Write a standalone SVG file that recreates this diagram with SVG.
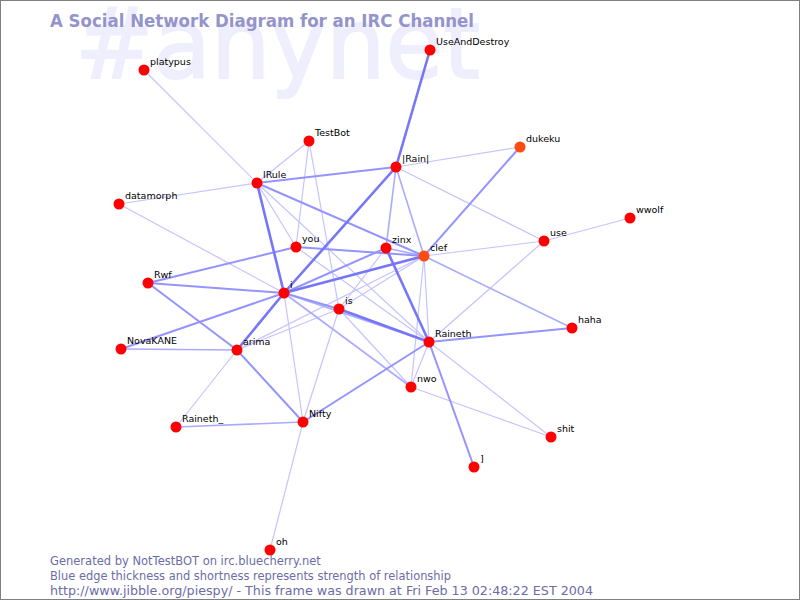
<svg xmlns="http://www.w3.org/2000/svg" width="800" height="600" viewBox="0 0 800 600">
<style>
.e1{stroke:#c4c4ff;stroke-width:1.2;fill:none}
.e2{stroke:#aaaaff;stroke-width:1.6;fill:none}
.e3{stroke:#9494ff;stroke-width:2;fill:none}
.e4{stroke:#7676f8;stroke-width:2.6;fill:none}
.n{fill:#ff0000}
.o{fill:#ff4a10}
.lb{font-family:"DejaVu Sans","Noto Sans",sans-serif;font-size:9.5px;fill:#000}
.ft{font-family:"DejaVu Sans","Noto Sans",sans-serif;font-size:11.5px;fill:#6c6ca6}
</style>
<rect x="0" y="0" width="800" height="600" fill="#ffffff"/>
<rect x="0.5" y="0.5" width="799" height="599" fill="none" stroke="#808080" stroke-width="1"/>
<text x="75" y="78" font-family="DejaVu Sans, sans-serif" font-size="98" fill="#eeeefd" stroke="#eeeefd" stroke-width="2" textLength="405" lengthAdjust="spacingAndGlyphs">#anynet</text>
<text x="50" y="27" font-family="DejaVu Sans, sans-serif" font-size="17" font-weight="bold" fill="#9494cc" textLength="424" lengthAdjust="spacingAndGlyphs">A Social Network Diagram for an IRC Channel</text>
<g id="connectors">
<line class="e1" x1="144" y1="70" x2="257" y2="183"/>
<line class="e1" x1="309" y1="141" x2="257" y2="183"/>
<line class="e1" x1="309" y1="141" x2="296" y2="247"/>
<line class="e1" x1="309" y1="141" x2="339" y2="309"/>
<line class="e1" x1="119" y1="204" x2="257" y2="183"/>
<line class="e1" x1="119" y1="204" x2="284" y2="293"/>
<line class="e1" x1="257" y1="183" x2="296" y2="247"/>
<line class="e1" x1="257" y1="183" x2="429" y2="342"/>
<line class="e1" x1="396" y1="167" x2="520" y2="147"/>
<line class="e1" x1="396" y1="167" x2="544" y2="241"/>
<line class="e1" x1="424" y1="256" x2="544" y2="241"/>
<line class="e1" x1="544" y1="241" x2="630" y2="218"/>
<line class="e1" x1="544" y1="241" x2="429" y2="342"/>
<line class="e1" x1="424" y1="256" x2="429" y2="342"/>
<line class="e1" x1="424" y1="256" x2="411" y2="387"/>
<line class="e1" x1="411" y1="387" x2="429" y2="342"/>
<line class="e1" x1="411" y1="387" x2="551" y2="437"/>
<line class="e1" x1="429" y1="342" x2="551" y2="437"/>
<line class="e1" x1="339" y1="309" x2="411" y2="387"/>
<line class="e1" x1="339" y1="309" x2="386" y2="248"/>
<line class="e1" x1="339" y1="309" x2="424" y2="256"/>
<line class="e1" x1="237" y1="350" x2="339" y2="309"/>
<line class="e1" x1="237" y1="350" x2="424" y2="256"/>
<line class="e1" x1="237" y1="350" x2="176" y2="427"/>
<line class="e1" x1="303" y1="422" x2="270" y2="550"/>
<line class="e1" x1="303" y1="422" x2="284" y2="293"/>
<line class="e1" x1="303" y1="422" x2="339" y2="309"/>
<line class="e1" x1="296" y1="247" x2="429" y2="342"/>
<line class="e2" x1="121" y1="349" x2="237" y2="350"/>
<line class="e2" x1="284" y1="293" x2="429" y2="342"/>
<line class="e2" x1="284" y1="293" x2="411" y2="387"/>
<line class="e2" x1="424" y1="256" x2="572" y2="328"/>
<line class="e2" x1="176" y1="427" x2="303" y2="422"/>
<line class="e2" x1="386" y1="248" x2="424" y2="256"/>
<line class="e2" x1="396" y1="167" x2="424" y2="256"/>
<line class="e2" x1="396" y1="167" x2="386" y2="248"/>
<line class="e3" x1="257" y1="183" x2="396" y2="167"/>
<line class="e3" x1="257" y1="183" x2="424" y2="256"/>
<line class="e3" x1="148" y1="283" x2="237" y2="350"/>
<line class="e3" x1="284" y1="293" x2="339" y2="309"/>
<line class="e3" x1="520" y1="147" x2="424" y2="256"/>
<line class="e3" x1="429" y1="342" x2="474" y2="467"/>
<line class="e3" x1="303" y1="422" x2="429" y2="342"/>
<line class="e3" x1="148" y1="283" x2="296" y2="247"/>
<line class="e3" x1="148" y1="283" x2="284" y2="293"/>
<line class="e3" x1="121" y1="349" x2="284" y2="293"/>
<line class="e3" x1="296" y1="247" x2="424" y2="256"/>
<line class="e3" x1="284" y1="293" x2="386" y2="248"/>
<line class="e3" x1="429" y1="342" x2="572" y2="328"/>
<line class="e3" x1="237" y1="350" x2="303" y2="422"/>
<line class="e4" x1="430" y1="50" x2="396" y2="167"/>
<line class="e4" x1="386" y1="248" x2="429" y2="342"/>
<line class="e4" x1="284" y1="293" x2="396" y2="167"/>
<line class="e4" x1="237" y1="350" x2="284" y2="293"/>
<line class="e4" x1="257" y1="183" x2="284" y2="293"/>
<line class="e4" x1="339" y1="309" x2="429" y2="342"/>
<line class="e4" x1="284" y1="293" x2="424" y2="256"/>
</g>
<g id="node-UseAndDestroy"><circle class="n" cx="430" cy="50" r="5.5"/><text class="lb" x="436" y="45">UseAndDestroy</text></g>
<g id="node-platypus"><circle class="n" cx="144" cy="70" r="5.5"/><text class="lb" x="150" y="65">platypus</text></g>
<g id="node-TestBot"><circle class="n" cx="309" cy="141" r="5.5"/><text class="lb" x="315" y="136">TestBot</text></g>
<g id="node-dukeku"><circle class="o" cx="520" cy="147" r="5.5"/><text class="lb" x="526" y="142">dukeku</text></g>
<g id="node-Rain"><circle class="n" cx="396" cy="167" r="5.5"/><text class="lb" x="402" y="162">|Rain|</text></g>
<g id="node-lRule"><circle class="n" cx="257" cy="183" r="5.5"/><text class="lb" x="263" y="178">lRule</text></g>
<g id="node-datamorph"><circle class="n" cx="119" cy="204" r="5.5"/><text class="lb" x="125" y="199">datamorph</text></g>
<g id="node-wwolf"><circle class="n" cx="630" cy="218" r="5.5"/><text class="lb" x="636" y="213">wwolf</text></g>
<g id="node-use"><circle class="n" cx="544" cy="241" r="5.5"/><text class="lb" x="550" y="236">use</text></g>
<g id="node-you"><circle class="n" cx="296" cy="247" r="5.5"/><text class="lb" x="302" y="242">you</text></g>
<g id="node-zinx"><circle class="n" cx="386" cy="248" r="5.5"/><text class="lb" x="392" y="243">zinx</text></g>
<g id="node-clef"><circle class="o" cx="424" cy="256" r="5.5"/><text class="lb" x="430" y="251">clef</text></g>
<g id="node-Rwf"><circle class="n" cx="148" cy="283" r="5.5"/><text class="lb" x="154" y="278">Rwf</text></g>
<g id="node-i"><circle class="n" cx="284" cy="293" r="5.5"/><text class="lb" x="290" y="288">i</text></g>
<g id="node-is"><circle class="n" cx="339" cy="309" r="5.5"/><text class="lb" x="345" y="304">is</text></g>
<g id="node-haha"><circle class="n" cx="572" cy="328" r="5.5"/><text class="lb" x="578" y="323">haha</text></g>
<g id="node-Raineth"><circle class="n" cx="429" cy="342" r="5.5"/><text class="lb" x="435" y="337">Raineth</text></g>
<g id="node-NovaKANE"><circle class="n" cx="121" cy="349" r="5.5"/><text class="lb" x="127" y="344">NovaKANE</text></g>
<g id="node-arima"><circle class="n" cx="237" cy="350" r="5.5"/><text class="lb" x="243" y="345">arima</text></g>
<g id="node-nwo"><circle class="n" cx="411" cy="387" r="5.5"/><text class="lb" x="417" y="382">nwo</text></g>
<g id="node-Nifty"><circle class="n" cx="303" cy="422" r="5.5"/><text class="lb" x="309" y="417">Nifty</text></g>
<g id="node-Raineth_"><circle class="n" cx="176" cy="427" r="5.5"/><text class="lb" x="182" y="422">Raineth_</text></g>
<g id="node-shit"><circle class="n" cx="551" cy="437" r="5.5"/><text class="lb" x="557" y="432">shit</text></g>
<g id="node-bracket"><circle class="n" cx="474" cy="467" r="5.5"/><text class="lb" x="480" y="462">]</text></g>
<g id="node-oh"><circle class="n" cx="270" cy="550" r="5.5"/><text class="lb" x="276" y="545">oh</text></g>
<text class="ft" x="50" y="565">Generated by NotTestBOT on irc.bluecherry.net</text>
<text class="ft" x="50" y="580" textLength="401" lengthAdjust="spacingAndGlyphs">Blue edge thickness and shortness represents strength of relationship</text>
<text class="ft" x="50" y="595" textLength="543" lengthAdjust="spacingAndGlyphs">http://www.jibble.org/piespy/ - This frame was drawn at Fri Feb 13 02:48:22 EST 2004</text>
</svg>
